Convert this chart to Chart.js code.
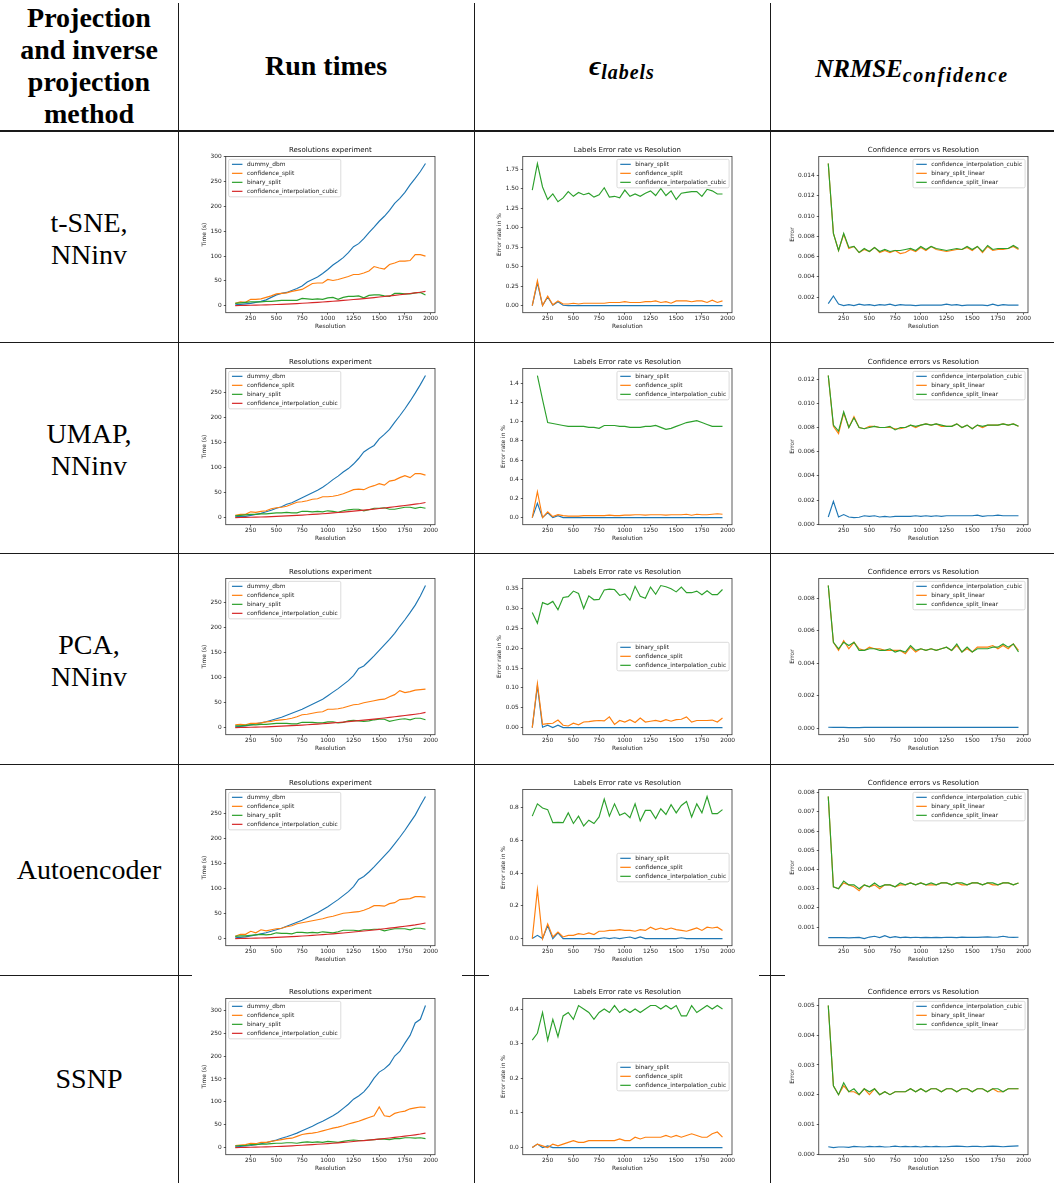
<!DOCTYPE html>
<html>
<head>
<meta charset="utf-8">
<script src="https://cdn.jsdelivr.net/npm/chart.js@4.4.1/dist/chart.umd.min.js"></script>
<style>
  html, body { margin: 0; padding: 0; background: #fff; overflow: hidden; }
  #page { position: relative; width: 1054px; height: 1183px; }
  .hl { position: absolute; left: 0; width: 1054px; background: #1a1a1a; }
  .vl { position: absolute; width: 1px; top: 3px; height: 1180px; background: #1a1a1a; }
  .cell { position: absolute; display: flex; align-items: center; justify-content: center;
          text-align: center; font-family: "Liberation Serif", serif; color: #000; }
  .fig { position: absolute; background: #fff; }
  .sub { font-size: 20px; position: relative; top: 7px; letter-spacing: 1px; }
</style>
</head>
<body>
<div id="page">
  <div class="cell" style="left:0;top:0;width:178px;height:131px;font-size:28px;font-weight:bold;line-height:32px;">Projection<br>and inverse<br>projection<br>method</div>
  <div class="cell" style="left:178px;top:0;width:296px;height:131px;font-size:28px;font-weight:bold;">Run times</div>
  <div class="cell" style="left:474px;top:0;width:296px;height:131px;font-size:28px;font-weight:bold;font-style:italic;"><span>ϵ</span><span class="sub">labels</span></div>
  <div class="cell" style="left:770px;top:0;width:284px;height:131px;font-size:25px;font-weight:bold;font-style:italic;padding-top:6px;box-sizing:border-box;"><span>NRMSE</span><span class="sub" style="letter-spacing:1.6px;">confidence</span></div>

  <div class="cell" style="left:0;top:133px;width:178px;height:211px;font-size:28px;line-height:32px;">t-SNE,<br>NNinv</div>
  <div class="cell" style="left:0;top:344px;width:178px;height:211px;font-size:28px;line-height:32px;">UMAP,<br>NNinv</div>
  <div class="cell" style="left:0;top:555px;width:178px;height:211px;font-size:28px;line-height:32px;">PCA,<br>NNinv</div>
  <div class="cell" style="left:0;top:764px;width:178px;height:211px;font-size:28px;line-height:32px;">Autoencoder</div>
  <div class="cell" style="left:0;top:975px;width:178px;height:208px;font-size:28px;line-height:32px;">SSNP</div>

  <div class="hl" style="top:130px;height:2px;"></div>
  <div class="hl" style="top:342px;height:1px;"></div>
  <div class="hl" style="top:553px;height:1px;"></div>
  <div class="hl" style="top:764px;height:1px;"></div>
  <div class="hl" style="top:975px;height:1px;"></div>
  <div class="vl" style="left:178px;"></div>
  <div class="vl" style="left:474px;"></div>
  <div class="vl" style="left:770px;"></div>
</div>

<script>
// ---- shared axis values ----
const resolution = [100,150,200,250,300,350,400,450,500,550,600,650,700,750,800,850,900,950,1000,1050,
                    1100,1150,1200,1250,1300,1350,1400,1450,1500,1550,1600,1650,1700,1750,1800,1850,1900,1950];
const resolutionTicks = [250,500,750,1000,1250,1500,1750,2000];

const methods = ['t-SNE', 'UMAP', 'PCA', 'Autoencoder', 'SSNP'];

// ---- run times (s) ----
const tsneTimeDummy = [2,3,4,5,7,9,12,17,22,25, 27,31,35,40,48,53,58,65,73,82, 89,97,107,119,125,135,147,158,170,180, 192,206,216,228,243,256,270,286];
const tsneTimeConf  = [5,8,7,13,13,14,17,20,24,25, 26,29,31,33,39,45,46,46,53,51, 53,56,59,63,63,66,70,79,76,74, 83,86,90,90,91,103,103,100];
const tsneTimeBin   = [5,6,7,8,8,8,9,9,10,11, 11,11,11,15,14,13,14,13,16,17, 13,17,19,19,20,16,21,22,22,20, 19,25,25,24,24,26,27,22];
const tsneTimeCubic = [0.5,0.7,0.9,1.1,1.3,1.6,1.9,2.3,2.7,3.1, 3.6,4.1,4.6,5.2,5.8,6.4,7.1,7.8,8.5,9.3, 10.1,10.9,11.8,12.7,13.6,14.6,15.6,16.6,17.7,18.8, 19.9,21.1,22.3,23.5,24.8,26.1,27.4,29.0];

const umapTimeDummy = [2,3,3,5,7,9,12,15,19,22, 27,30,35,40,45,50,55,61,68,76, 83,91,98,107,118,131,138,144,157,166, 176,190,203,217,232,248,265,283];
const umapTimeConf  = [5,7,7,12,11,13,14,18,20,21, 23,27,31,32,34,37,38,42,42,43, 45,48,52,56,57,56,61,64,68,65, 73,75,80,84,80,88,88,85];
const umapTimeBin   = [4,5,6,7,7,8,8,9,10,10, 11,10,10,13,13,12,13,12,14,13, 11,14,16,17,17,14,16,19,19,20, 17,17,19,21,21,19,21,19];
const umapTimeCubic = [0.5,0.7,0.9,1.2,1.4,1.7,2.0,2.4,2.8,3.3, 3.8,4.3,4.9,5.5,6.1,6.8,7.5,8.2,9.0,9.8, 10.6,11.5,12.4,13.3,14.3,15.3,16.3,17.4,18.5,19.6, 20.8,22.0,23.2,24.5,25.8,27.2,28.6,30.5];

const pcaTimeDummy = [2,3,4,6,8,10,12,15,18,21, 25,29,33,37,42,47,52,57,64,71, 78,86,94,104,118,123,133,143,154,165, 176,188,202,215,229,244,262,283];
const pcaTimeConf  = [6,7,6,9,9,10,12,13,15,16, 17,19,22,26,27,29,31,32,37,37, 38,40,43,46,47,50,52,54,56,57, 62,66,74,70,72,75,76,77];
const pcaTimeBin   = [4,4,5,6,6,7,7,8,9,9, 9,8,8,11,11,11,10,10,12,12, 10,11,14,15,14,13,14,16,17,17, 13,15,17,18,16,19,19,16];
const pcaTimeCubic = [0.5,0.7,0.9,1.1,1.4,1.7,2.0,2.4,2.8,3.3, 3.8,4.3,4.9,5.5,6.1,6.8,7.5,8.2,9.0,9.8, 10.6,11.5,12.4,13.3,14.3,15.3,16.3,17.4,18.5,19.6, 20.8,22.0,23.2,24.5,25.8,27.1,28.6,30.8];

const aeTimeDummy = [2,3,4,6,8,10,12,15,18,21, 25,29,33,37,42,47,52,58,64,71, 78,86,94,104,118,124,133,143,154,165, 176,189,202,216,231,246,265,283];
const aeTimeConf  = [5,9,9,15,12,18,16,18,20,21, 24,26,30,32,34,36,38,40,43,45, 48,51,52,53,54,57,61,66,66,65, 70,72,78,79,80,84,84,83];
const aeTimeBin   = [5,6,6,7,8,9,8,9,12,11, 11,10,13,13,12,13,12,14,13,12, 14,17,17,17,16,18,18,19,19,16, 18,20,20,20,18,21,21,19];
const aeTimeCubic = [0.5,0.7,0.9,1.2,1.4,1.7,2.0,2.4,2.9,3.3, 3.8,4.4,5.0,5.6,6.2,6.9,7.6,8.3,9.1,9.9, 10.8,11.7,12.6,13.6,14.6,15.6,16.6,17.7,18.8,20.0, 21.2,22.4,23.7,25.0,26.4,27.8,29.6,31.5];

const ssnpTimeDummy = [2,3,4,5,7,9,11,14,17,21, 24,28,32,37,42,47,53,58,64,70, 77,86,95,106,113,122,135,152,165,172, 182,200,210,228,245,272,280,310];
const ssnpTimeConf  = [5,6,7,10,9,12,12,14,16,18, 20,21,25,29,31,32,34,37,40,43, 45,48,52,55,58,62,66,70,89,70, 68,75,78,80,85,87,89,88];
const ssnpTimeBin   = [4,5,5,7,7,8,8,9,10,10, 11,11,10,12,13,12,13,12,14,13, 12,14,16,17,16,16,17,18,19,19, 18,20,20,22,22,21,22,20];
const ssnpTimeCubic = [0.5,0.7,0.9,1.2,1.4,1.7,2.0,2.4,2.9,3.3, 3.8,4.4,5.0,5.6,6.3,7.0,7.7,8.4,9.2,10.0, 10.9,11.8,12.8,13.8,14.8,15.8,16.9,18.0,19.1,20.3, 21.5,22.8,24.1,25.4,26.8,28.3,30.0,32.0];

// ---- label error rate (%) ----
const tsneLblBin   = [0,0.29,0,0.11,0.005,0.05,0.005,0,0,0, 0,0,0,0,0,0,0,0,0,0, 0,0,0,0,0,0,0,0,0,0, 0,0,0,0,0,0,0,0];
const tsneLblConf  = [0,0.32,0,0.12,0.01,0.06,0.02,0.02,0.03,0.02, 0.03,0.03,0.03,0.03,0.03,0.04,0.04,0.04,0.05,0.04, 0.04,0.04,0.05,0.05,0.06,0.04,0.05,0.03,0.06,0.06, 0.06,0.05,0.06,0.06,0.04,0.07,0.04,0.06];
const tsneLblCubic = [1.48,1.82,1.52,1.36,1.43,1.33,1.38,1.46,1.40,1.45, 1.42,1.44,1.39,1.42,1.51,1.39,1.40,1.38,1.48,1.40, 1.43,1.40,1.44,1.47,1.41,1.50,1.41,1.47,1.36,1.44, 1.45,1.46,1.46,1.40,1.49,1.47,1.43,1.43];

const umapLblBin   = [0,0.15,0,0.05,0,0.02,0,0,0,0, 0,0,0,0,0,0,0,0,0,0, 0,0,0,0,0,0,0,0,0,0, 0,0,0,0,0,0,0,0];
const umapLblConf  = [0,0.27,0,0.06,0.01,0.03,0.02,0.015,0.015,0.015, 0.02,0.02,0.02,0.02,0.02,0.025,0.02,0.02,0.025,0.025, 0.03,0.03,0.025,0.03,0.03,0.03,0.025,0.03,0.03,0.03, 0.035,0.025,0.035,0.03,0.03,0.035,0.04,0.035];
const umapLblCubic = [null,1.48,1.23,0.99,0.98,0.97,0.96,0.95,0.95,0.95, 0.95,0.94,0.94,0.93,0.96,0.96,0.96,0.95,0.95,0.94, 0.94,0.94,0.95,0.95,0.96,0.94,0.92,0.93,0.95,0.97, 0.99,1.00,1.01,0.99,0.97,0.95,0.95,0.95];

const pcaLblBin   = [0,0.105,0.001,0.006,0,0.006,0,0,0,0, 0,0,0,0,0,0,0,0,0,0, 0,0,0,0,0,0,0,0,0,0, 0,0,0,0,0,0,0,0];
const pcaLblConf  = [0,0.111,0.008,0.010,0.011,0.019,0.006,0.004,0.011,0.007, 0.014,0.015,0.017,0.018,0.017,0.027,0.008,0.018,0.014,0.020, 0.013,0.024,0.014,0.016,0.018,0.015,0.020,0.016,0.020,0.021, 0.027,0.014,0.018,0.018,0.018,0.019,0.014,0.024];
const pcaLblCubic = [0.290,0.263,0.315,0.310,0.318,0.297,0.328,0.330,0.344,0.338, 0.300,0.332,0.322,0.323,0.347,0.349,0.348,0.333,0.337,0.321, 0.356,0.331,0.326,0.354,0.336,0.358,0.355,0.350,0.342,0.354, 0.340,0.340,0.344,0.335,0.345,0.335,0.335,0.348];

const aeLblBin   = [0,0.02,0,0.08,0,0.035,0,0,0,0, 0,0,0,0,0.005,0,0.005,0,0.005,0.01, 0,0.01,0,0,0,0,0,0,0,0.005, 0,0,0,0,0,0,0,0];
const aeLblConf  = [0,0.30,0,0.09,0.01,0.04,0.01,0.02,0.02,0.03, 0.025,0.035,0.025,0.045,0.045,0.05,0.05,0.055,0.05,0.05, 0.045,0.055,0.05,0.07,0.055,0.065,0.055,0.065,0.055,0.05, 0.045,0.055,0.065,0.05,0.07,0.065,0.07,0.05];
const aeLblCubic = [0.750,0.825,0.800,0.790,0.710,0.712,0.710,0.770,0.705,0.750, 0.690,0.725,0.705,0.745,0.855,0.750,0.825,0.755,0.770,0.740, 0.825,0.720,0.785,0.785,0.735,0.795,0.760,0.820,0.770,0.815, 0.840,0.745,0.825,0.770,0.870,0.765,0.765,0.790];

const ssnpLblBin   = [0,0.01,0,0.005,0,0,0,0,0,0, 0,0,0,0,0,0,0,0,0,0, 0,0,0,0,0,0,0,0,0,0, 0,0,0,0,0,0,0,0];
const ssnpLblConf  = [0,0.01,0.005,0,0.01,0.005,0.01,0.015,0.02,0.015, 0.015,0.02,0.02,0.02,0.02,0.02,0.02,0.025,0.02,0.02, 0.03,0.025,0.03,0.03,0.03,0.03,0.035,0.03,0.035,0.03, 0.035,0.04,0.035,0.03,0.03,0.04,0.045,0.03];
const ssnpLblCubic = [0.31,0.33,0.39,0.31,0.37,0.32,0.38,0.39,0.37,0.41, 0.40,0.39,0.37,0.39,0.40,0.39,0.41,0.39,0.40,0.39, 0.40,0.39,0.40,0.41,0.41,0.40,0.41,0.40,0.41,0.38, 0.38,0.41,0.39,0.40,0.41,0.40,0.41,0.40];

// ---- confidence NRMSE ----
const tsneConfCubic = [0.00135,0.0021,0.0013,0.00115,0.00125,0.00115,0.0013,0.0012,0.00125,0.00115, 0.00125,0.0012,0.0013,0.00115,0.00125,0.0012,0.0012,0.00115,0.0012,0.0012, 0.0012,0.0012,0.0012,0.0013,0.0012,0.00125,0.00115,0.0012,0.0012,0.0012, 0.0012,0.00115,0.0013,0.00115,0.00125,0.0012,0.0012,0.0012];
const tsneConfBin   = [0.0152,0.0083,0.0066,0.0082,0.0068,0.0070,0.0064,0.0067,0.0065,0.0069, 0.0064,0.0066,0.0064,0.0066,0.0063,0.0064,0.0067,0.0065,0.0069,0.0066, 0.0070,0.0067,0.0066,0.0065,0.0066,0.0067,0.0067,0.0069,0.0066,0.0070, 0.0064,0.0070,0.0066,0.0067,0.0067,0.0068,0.0070,0.0067];
const tsneConfSplit = [0.0152,0.0083,0.0066,0.0083,0.0069,0.0070,0.0064,0.0068,0.0065,0.0069, 0.0065,0.0067,0.0065,0.0066,0.0066,0.0067,0.0068,0.0066,0.0070,0.0067, 0.0070,0.0068,0.0067,0.0066,0.0067,0.0068,0.0067,0.0070,0.0067,0.0070, 0.0065,0.0071,0.0067,0.0068,0.0068,0.0068,0.0071,0.0068];

const umapConfCubic = [0.0006,0.0019,0.0006,0.0008,0.0006,0.00055,0.00058,0.0007,0.00065,0.0007, 0.0006,0.00065,0.0006,0.00065,0.00065,0.00065,0.00065,0.0007,0.00065,0.0007, 0.00065,0.0007,0.00065,0.0007,0.0007,0.0007,0.0007,0.0007,0.0007,0.00075, 0.00065,0.0007,0.0007,0.00075,0.0007,0.0007,0.0007,0.0007];
const umapConfBin   = [0.0123,0.0081,0.0075,0.0092,0.0080,0.0089,0.0080,0.0079,0.0081,0.0081, 0.0080,0.0080,0.0080,0.0079,0.0079,0.0080,0.0082,0.0080,0.0082,0.0083, 0.0082,0.0083,0.0081,0.0081,0.0081,0.0083,0.0080,0.0082,0.0079,0.0082, 0.0080,0.0082,0.0082,0.0082,0.0083,0.0082,0.0083,0.0081];
const umapConfSplit = [0.0123,0.0082,0.0077,0.0093,0.0080,0.0088,0.0080,0.0079,0.0080,0.0081, 0.0080,0.0080,0.0081,0.0078,0.0080,0.0080,0.0082,0.0081,0.0082,0.0083, 0.0082,0.0083,0.0082,0.0081,0.0081,0.0083,0.0080,0.0082,0.0079,0.0082, 0.0081,0.0082,0.0082,0.0082,0.0083,0.0082,0.0083,0.0081];

const pcaConfCubic = [0.00006,0.00005,0.00005,0.00005,0.00004,0.00004,0.00004,0.00005,0.00005,0.00005, 0.00005,0.00005,0.00005,0.00005,0.00005,0.00005,0.00005,0.00005,0.00005,0.00005, 0.00005,0.00005,0.00005,0.00005,0.00005,0.00005,0.00005,0.00005,0.00005,0.00005, 0.00005,0.00005,0.00005,0.00005,0.00005,0.00005,0.00005,0.00005];
const pcaConfBin   = [0.0088,0.0053,0.0048,0.0054,0.0049,0.0053,0.0049,0.0048,0.0050,0.0049, 0.0049,0.0048,0.0048,0.0048,0.0048,0.0046,0.0050,0.0047,0.0049,0.0048, 0.0049,0.0048,0.0049,0.0050,0.0048,0.0051,0.0047,0.0049,0.0047,0.0050, 0.0050,0.0050,0.0051,0.0049,0.0051,0.0049,0.0052,0.0048];
const pcaConfSplit = [0.0088,0.0053,0.0049,0.0053,0.0051,0.0053,0.0048,0.0048,0.0049,0.0049, 0.0048,0.0048,0.0049,0.0047,0.0048,0.0047,0.0051,0.0048,0.0049,0.0048, 0.0049,0.0048,0.0049,0.0050,0.0048,0.0052,0.0047,0.0050,0.0047,0.0049, 0.0049,0.0049,0.0050,0.0050,0.0052,0.0050,0.0052,0.0047];

const aeConfCubic = [0.00045,0.00045,0.00045,0.00045,0.00044,0.00045,0.00046,0.00040,0.00048,0.00052, 0.00045,0.00055,0.00045,0.00050,0.00045,0.00048,0.00045,0.00047,0.00045,0.00046, 0.00045,0.00046,0.00045,0.00047,0.00046,0.00045,0.00048,0.00046,0.00047,0.00046, 0.00048,0.00049,0.00047,0.00048,0.00052,0.00048,0.00046,0.00047];
const aeConfBin   = [0.0078,0.0031,0.0030,0.0033,0.0032,0.0031,0.0029,0.0032,0.0031,0.0032, 0.0030,0.0032,0.0032,0.0031,0.0032,0.0032,0.0033,0.0032,0.0033,0.0032, 0.0032,0.0032,0.0033,0.0033,0.0032,0.0033,0.0032,0.0032,0.0033,0.0033, 0.0032,0.0033,0.0032,0.0032,0.0033,0.0033,0.0032,0.0033];
const aeConfSplit = [0.0078,0.0031,0.0030,0.0034,0.0032,0.0032,0.0030,0.0032,0.0031,0.0033, 0.0031,0.0032,0.0032,0.0031,0.0033,0.0032,0.0033,0.0032,0.0033,0.0032, 0.0033,0.0032,0.0033,0.0033,0.0032,0.0033,0.0033,0.0032,0.0033,0.0033, 0.0032,0.0033,0.0033,0.0032,0.0033,0.0033,0.0032,0.0033];

const ssnpConfCubic = [0.00025,0.00022,0.00024,0.00024,0.00023,0.00026,0.00025,0.00024,0.00026,0.00025, 0.00026,0.00024,0.00025,0.00027,0.00025,0.00026,0.00025,0.00026,0.00024,0.00026, 0.00025,0.00026,0.00025,0.00025,0.00026,0.00027,0.00026,0.00025,0.00026,0.00026, 0.00025,0.00026,0.00027,0.00026,0.00025,0.00026,0.00027,0.00028];
const ssnpConfBin   = [0.0050,0.0023,0.0020,0.0023,0.0021,0.0021,0.0020,0.0022,0.0020,0.0022, 0.0020,0.0021,0.0020,0.0021,0.0021,0.0021,0.0022,0.0021,0.0022,0.0021, 0.0022,0.0022,0.0021,0.0022,0.0022,0.0021,0.0022,0.0022,0.0021,0.0022, 0.0022,0.0021,0.0022,0.0021,0.0021,0.0022,0.0022,0.0022];
const ssnpConfSplit = [0.0050,0.0023,0.0020,0.0024,0.0021,0.0022,0.0020,0.0022,0.0021,0.0022, 0.0020,0.0021,0.0020,0.0021,0.0021,0.0021,0.0022,0.0021,0.0022,0.0021, 0.0022,0.0022,0.0021,0.0022,0.0022,0.0021,0.0022,0.0022,0.0021,0.0022, 0.0022,0.0021,0.0022,0.0022,0.0021,0.0022,0.0022,0.0022];

// ---- y tick labels per panel ----
const timeTicks300 = [0,50,100,150,200,250,300];
const timeTicks250 = [0,50,100,150,200,250];
const tsneLblTicks = [0,0.25,0.5,0.75,1.0,1.25,1.5,1.75];
const umapLblTicks = [0,0.2,0.4,0.6,0.8,1.0,1.2,1.4];
const pcaLblTicks  = [0,0.05,0.10,0.15,0.20,0.25,0.30,0.35];
const aeLblTicks   = [0,0.2,0.4,0.6,0.8];
const ssnpLblTicks = [0,0.1,0.2,0.3,0.4];
const tsneConfTicks = [0.002,0.004,0.006,0.008,0.010,0.012,0.014];
const umapConfTicks = [0,0.002,0.004,0.006,0.008,0.010,0.012];
const pcaConfTicks  = [0,0.002,0.004,0.006,0.008];
const aeConfTicks   = [0.001,0.002,0.003,0.004,0.005,0.006,0.007,0.008];
const ssnpConfTicks = [0,0.001,0.002,0.003,0.004,0.005];

// ---- series names and colours ----
const timeNames = ['dummy_dbm', 'confidence_split', 'binary_split', 'confidence_interpolation_cubic'];
const lblNames  = ['binary_split', 'confidence_split', 'confidence_interpolation_cubic'];
const confNames = ['confidence_interpolation_cubic', 'binary_split_linear', 'confidence_split_linear'];
const tab10 = ['#1f77b4', '#ff7f0e', '#2ca02c', '#d62728'];

// ---- panel grid: rows = methods, columns = metrics ----
const figTop  = [132, 344, 554, 765, 974];
const figLeft = [192, 489, 785];
const FIG_W = 270, FIG_H = 203;

const panels = [
  // t-SNE
  { title: 'Resolutions experiment', ylabel: 'Time (s)', names: timeNames, series: [tsneTimeDummy, tsneTimeConf, tsneTimeBin, tsneTimeCubic], yticks: timeTicks300, dec: 0, loc: 'upper left' },
  { title: 'Labels Error rate vs Resolution', ylabel: 'Error rate in %', names: lblNames, series: [tsneLblBin, tsneLblConf, tsneLblCubic], yticks: tsneLblTicks, dec: 2, loc: 'upper right' },
  { title: 'Confidence errors vs Resolution', ylabel: 'Error', names: confNames, series: [tsneConfCubic, tsneConfBin, tsneConfSplit], yticks: tsneConfTicks, dec: 3, loc: 'upper right' },
  // UMAP
  { title: 'Resolutions experiment', ylabel: 'Time (s)', names: timeNames, series: [umapTimeDummy, umapTimeConf, umapTimeBin, umapTimeCubic], yticks: timeTicks250, dec: 0, loc: 'upper left' },
  { title: 'Labels Error rate vs Resolution', ylabel: 'Error rate in %', names: lblNames, series: [umapLblBin, umapLblConf, umapLblCubic], yticks: umapLblTicks, dec: 1, loc: 'upper right' },
  { title: 'Confidence errors vs Resolution', ylabel: 'Error', names: confNames, series: [umapConfCubic, umapConfBin, umapConfSplit], yticks: umapConfTicks, dec: 3, loc: 'upper right' },
  // PCA
  { title: 'Resolutions experiment', ylabel: 'Time (s)', names: timeNames, series: [pcaTimeDummy, pcaTimeConf, pcaTimeBin, pcaTimeCubic], yticks: timeTicks250, dec: 0, loc: 'upper left' },
  { title: 'Labels Error rate vs Resolution', ylabel: 'Error rate in %', names: lblNames, series: [pcaLblBin, pcaLblConf, pcaLblCubic], yticks: pcaLblTicks, dec: 2, loc: 'center right' },
  { title: 'Confidence errors vs Resolution', ylabel: 'Error', names: confNames, series: [pcaConfCubic, pcaConfBin, pcaConfSplit], yticks: pcaConfTicks, dec: 3, loc: 'upper right' },
  // Autoencoder
  { title: 'Resolutions experiment', ylabel: 'Time (s)', names: timeNames, series: [aeTimeDummy, aeTimeConf, aeTimeBin, aeTimeCubic], yticks: timeTicks250, dec: 0, loc: 'upper left' },
  { title: 'Labels Error rate vs Resolution', ylabel: 'Error rate in %', names: lblNames, series: [aeLblBin, aeLblConf, aeLblCubic], yticks: aeLblTicks, dec: 1, loc: 'center right' },
  { title: 'Confidence errors vs Resolution', ylabel: 'Error', names: confNames, series: [aeConfCubic, aeConfBin, aeConfSplit], yticks: aeConfTicks, dec: 3, loc: 'upper right' },
  // SSNP
  { title: 'Resolutions experiment', ylabel: 'Time (s)', names: timeNames, series: [ssnpTimeDummy, ssnpTimeConf, ssnpTimeBin, ssnpTimeCubic], yticks: timeTicks300, dec: 0, loc: 'upper left' },
  { title: 'Labels Error rate vs Resolution', ylabel: 'Error rate in %', names: lblNames, series: [ssnpLblBin, ssnpLblConf, ssnpLblCubic], yticks: ssnpLblTicks, dec: 1, loc: 'center right' },
  { title: 'Confidence errors vs Resolution', ylabel: 'Error', names: confNames, series: [ssnpConfCubic, ssnpConfBin, ssnpConfSplit], yticks: ssnpConfTicks, dec: 3, loc: 'upper right' }
];

// ---- drawing helpers ----
const SMALL = 5.86;           // tick / legend / axis label size
const FONT = 'DejaVu Sans';
const AXIS_LEFT = 33.75;      // width reserved left of the axes box
const TICK_LEN = 2, TICK_PAD = 2;

const measureCtx = document.createElement('canvas').getContext('2d');
measureCtx.font = SMALL + 'px "' + FONT + '"';

// axes box on all four sides
const framePlugin = {
  id: 'frame',
  afterDatasetsDraw(chart) {
    const { ctx, chartArea: a } = chart;
    ctx.save();
    ctx.strokeStyle = '#333';
    ctx.lineWidth = 0.8;
    ctx.strokeRect(a.left, a.top, a.right - a.left, a.bottom - a.top);
    ctx.restore();
  }
};

// legend box drawn inside the axes
const boxLegend = {
  id: 'boxLegend',
  afterDraw(chart, args, opts) {
    const ctx = chart.ctx, a = chart.chartArea;
    const sets = chart.data.datasets;
    ctx.save();
    ctx.font = SMALL + 'px "' + FONT + '"';
    let tw = 0;
    sets.forEach(d => { tw = Math.max(tw, ctx.measureText(d.label).width); });
    const padL = 3.3, handle = 10.5, gap = 4.5, padR = 3, pitch = 9, m = 2.9;
    const w = padL + handle + gap + tw + padR;
    const h = (sets.length - 1) * pitch + 10.5;
    const x = opts.loc === 'upper left' ? a.left + m : a.right - m - w;
    const y = opts.loc === 'center right' ? (a.top + a.bottom) / 2 - h / 2 : a.top + m;
    ctx.beginPath();
    if (ctx.roundRect) ctx.roundRect(x, y, w, h, 1.5); else ctx.rect(x, y, w, h);
    ctx.fillStyle = 'rgba(255,255,255,0.8)';
    ctx.fill();
    ctx.strokeStyle = '#cccccc';
    ctx.lineWidth = 0.7;
    ctx.stroke();
    sets.forEach((d, i) => {
      const cy = y + 5 + i * pitch;
      ctx.beginPath();
      ctx.moveTo(x + padL, cy);
      ctx.lineTo(x + padL + handle, cy);
      ctx.strokeStyle = d.borderColor;
      ctx.lineWidth = 1.2;
      ctx.stroke();
      ctx.fillStyle = '#222';
      ctx.textBaseline = 'middle';
      ctx.textAlign = 'left';
      ctx.fillText(d.label, x + padL + handle + gap, cy);
    });
    ctx.restore();
  }
};

function smallFont() { return { family: FONT, size: SMALL, weight: 'normal', lineHeight: 1.2 }; }

function buildPanel(panel, left, top) {
  const holder = document.createElement('div');
  holder.className = 'fig';
  holder.style.left = left + 'px';
  holder.style.top = top + 'px';
  holder.style.width = FIG_W + 'px';
  holder.style.height = FIG_H + 'px';
  const canvas = document.createElement('canvas');
  canvas.width = FIG_W;
  canvas.height = FIG_H;
  holder.appendChild(canvas);
  document.getElementById('page').appendChild(holder);

  // data limits with a 5% margin on each side
  let lo = Infinity, hi = -Infinity;
  panel.series.forEach(s => s.forEach(v => { if (v !== null) { lo = Math.min(lo, v); hi = Math.max(hi, v); } }));
  const yPad = (hi - lo) * 0.05;
  const xLo = resolution[0], xHi = resolution[resolution.length - 1];
  const xPad = (xHi - xLo) * 0.05;
  const n = panel.series.length;

  // y label sits just left of the widest tick label
  const fmt = v => Number(v).toFixed(panel.dec);
  let tickW = 0;
  panel.yticks.forEach(v => { tickW = Math.max(tickW, measureCtx.measureText(fmt(v)).width); });
  const yTitleCenter = AXIS_LEFT - TICK_LEN - TICK_PAD - tickW - 2.3 - SMALL * 0.6;
  const yTitlePad = Math.max(0, yTitleCenter - SMALL * 0.6);

  new Chart(canvas, {
    type: 'line',
    data: {
      datasets: panel.series.map((vals, i) => ({
        label: panel.names[i],
        data: resolution.map((x, j) => ({ x: x, y: vals[j] })),
        borderColor: tab10[i],
        backgroundColor: tab10[i],
        borderWidth: 1.15,
        pointRadius: 0,
        tension: 0,
        fill: false,
        spanGaps: false,
        order: n - 1 - i
      }))
    },
    options: {
      responsive: false,
      animation: false,
      devicePixelRatio: 1,
      events: [],
      layout: { padding: { left: 0, right: 27, top: 0, bottom: 0 } },
      plugins: {
        legend: { display: false },
        tooltip: { enabled: false },
        title: {
          display: true, text: panel.title, color: '#111', fullSize: false,
          font: { family: FONT, size: 7.03, weight: 'normal', lineHeight: 1.2 },
          padding: { top: 13.8, bottom: 2.2 }
        },
        boxLegend: { loc: panel.loc }
      },
      scales: {
        x: {
          type: 'linear', min: xLo - xPad, max: xHi + xPad,
          afterBuildTicks: sc => { sc.ticks = resolutionTicks.map(v => ({ value: v })); },
          afterFit: sc => { sc.height = 22.3; },
          ticks: { autoSkip: false, maxRotation: 0, minRotation: 0, padding: 0, color: '#222', font: smallFont(),
                   callback: v => String(v) },
          grid: { drawOnChartArea: false, drawTicks: true, tickLength: TICK_LEN, color: '#333', lineWidth: 0.8 },
          border: { display: false },
          title: { display: true, text: 'Resolution', color: '#222', font: smallFont(), padding: { top: 0, bottom: 5.5 } }
        },
        y: {
          type: 'linear', min: lo - yPad, max: hi + yPad,
          afterBuildTicks: sc => { sc.ticks = panel.yticks.map(v => ({ value: v })); },
          afterFit: sc => { sc.width = AXIS_LEFT; },
          ticks: { autoSkip: false, padding: TICK_PAD, color: '#222', font: smallFont(), callback: v => fmt(v) },
          grid: { drawOnChartArea: false, drawTicks: true, tickLength: TICK_LEN, color: '#333', lineWidth: 0.8 },
          border: { display: false },
          title: { display: true, text: panel.ylabel, color: '#222', font: smallFont(), padding: { top: yTitlePad, bottom: 0 } }
        }
      }
    },
    plugins: [framePlugin, boxLegend]
  });
}

panels.forEach((p, k) => {
  const row = Math.floor(k / 3), col = k % 3;
  buildPanel(p, figLeft[col], figTop[row]);
});
</script>
</body>
</html>
